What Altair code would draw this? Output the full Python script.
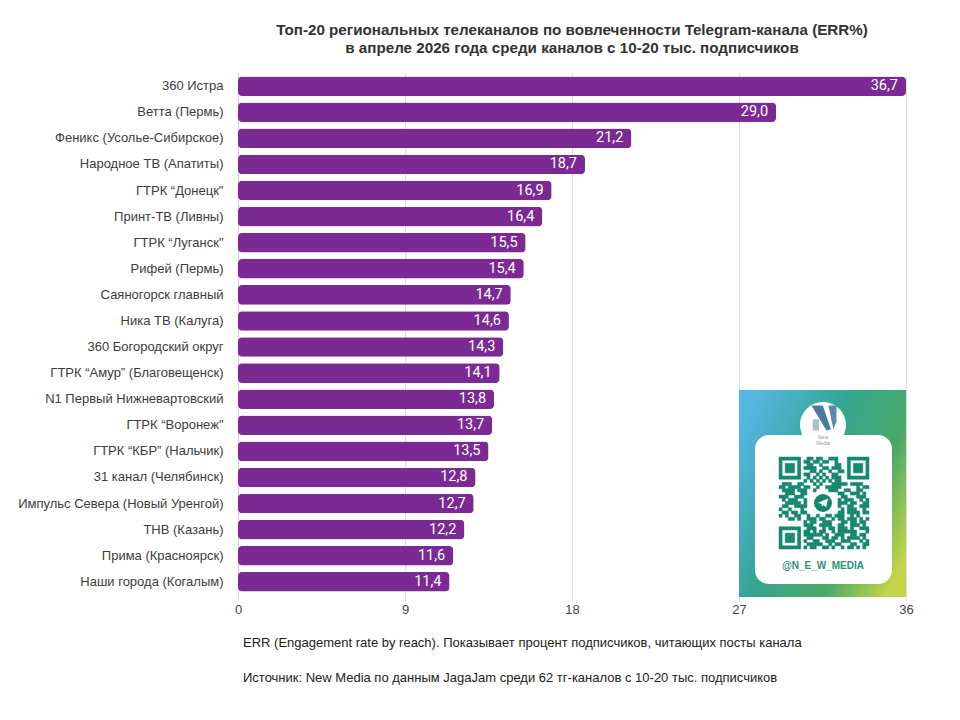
import altair as alt
import pandas as pd

channels = ["360 Истра", "Ветта (Пермь)", "Феникс (Усолье-Сибирское)", "Народное ТВ (Апатиты)",
            "ГТРК “Донецк\"", "Принт-ТВ (Ливны)", "ГТРК “Луганск\"", "Рифей (Пермь)",
            "Саяногорск главный", "Ника ТВ (Калуга)", "360 Богородский округ",
            "ГТРК “Амур” (Благовещенск)", "N1 Первый Нижневартовский", "ГТРК “Воронеж\"",
            "ГТРК “КБР” (Нальчик)", "31 канал (Челябинск)", "Импульс Севера (Новый Уренгой)",
            "ТНВ (Казань)", "Прима (Красноярск)", "Наши города (Когалым)"]
err = [36.7, 29.0, 21.2, 18.7, 16.9, 16.4, 15.5, 15.4, 14.7, 14.6,
       14.3, 14.1, 13.8, 13.7, 13.5, 12.8, 12.7, 12.2, 11.6, 11.4]
x_ticks = [0, 9, 18, 27, 36]
title_lines = ["Топ-20 региональных телеканалов по вовлеченности Telegram-канала (ERR%)",
               "в апреле 2026 года среди каналов с 10-20 тыс. подписчиков"]
notes = ["ERR (Engagement rate by reach). Показывает процент подписчиков, читающих посты канала",
         "Источник: New Media по данным JagaJam среди 62 тг-каналов с 10-20 тыс. подписчиков"]
qr_rows = [
    "11111110011011001110001111111",
    "10000010110110110010001000001",
    "10111010011001000011001011101",
    "10111010111100110111001011101",
    "10111010001101001001101011101",
    "10000010110010100110001000001",
    "11111110010101010111001111111",
    "00000000101010101011000000000",
    "01110011000101000111110111100",
    "11011110110010011111000001011",
    "01111011100100001110011001100",
    "00111001100000000001100111010",
    "11100111000000000000110001110",
    "01011100100000000001011100101",
    "00111110100000000001110110011",
    "01100111100000000001001100111",
    "10010001000000000000101110010",
    "01101101100000000001101111011",
    "10100110010010011011100101000",
    "00011010011101100101101110101",
    "00000000101100111000110110110",
    "00000000111001111001100111010",
    "11111110011100101101110100111",
    "10000010110101100101111110001",
    "10111010111111010011100110110",
    "10111010011000110110101111010",
    "10111010100110011100111000101",
    "10000010011111001011000110011",
    "11111110101100110100101101010",
]

FONT = "Liberation Sans"
df = pd.DataFrame({"channel": channels, "err": err,
                   "label": [f"{v:.1f}".replace(".", ",") for v in err]})
qr = pd.DataFrame([{"c": c, "c2": c + 1, "r": r, "r2": r + 1}
                   for r, row in enumerate(qr_rows) for c, ch in enumerate(row) if ch == "1"])

xs = alt.Scale(domain=[0, 36], clamp=True, nice=False)
ys = alt.Scale(domain=channels, paddingInner=0.25, paddingOuter=0.13)
X = alt.X("err:Q", scale=xs, title=None,
          axis=alt.Axis(values=x_ticks, grid=True, gridColor="#dedede", tickColor="#dedede", tickSize=6,
                        domain=False, labelFont=FONT, labelFontSize=13, labelColor="#444444",
                        labelPadding=2, labelAngle=0, labelFlush=False))
Y = alt.Y("channel:N", scale=ys, sort=channels, title=None,
          axis=alt.Axis(ticks=False, domainColor="#d0d0d0", labelFont=FONT, labelFontSize=13,
                        labelColor="#3c3c3c", labelPadding=15, labelLimit=320))

bars = alt.Chart(df).mark_bar(color="#7a2a92", cornerRadius=4).encode(x=X, y=Y)
labels = alt.Chart(df).mark_text(align="right", baseline="middle", dx=-8, color="white",
                                 font="Roboto", fontSize=14.5).encode(
    x=alt.X("err:Q", scale=xs), y=alt.Y("channel:N", scale=ys, sort=channels), text="label:N")

one = pd.DataFrame({"k": [0]})
panel_fill = alt.Gradient(gradient="linear", x1=0, y1=0.2, x2=1, y2=0.8, stops=[
    alt.GradientStop(offset=0, color="#55b6e2"), alt.GradientStop(offset=0.4, color="#35a592"),
    alt.GradientStop(offset=0.72, color="#49a868"), alt.GradientStop(offset=1, color="#c4d448")])
panel = alt.Chart(one).mark_rect(color=panel_fill).encode(
    x=alt.datum(27, scale=xs), x2=alt.datum(36), y=alt.value(317), y2=alt.value(524))
badge = alt.Chart(one).mark_point(filled=True, color="white", opacity=1, size=2116).encode(
    x=alt.value(585), y=alt.value(352))
card = alt.Chart(one).mark_rect(color="white", cornerRadius=14).encode(
    x=alt.value(517), x2=alt.value(654), y=alt.value(362), y2=alt.value(511))
def glyph(path, color, size, px, py):
    return alt.Chart(one).mark_point(shape=path, filled=True, color=color, opacity=1, size=size,
                                     strokeWidth=0).encode(x=alt.value(px), y=alt.value(py))
logo_a = glyph("M-1,-1 L-.1,-1 L.55,.9 L.2,1 Z", "#4a7b9d", 625, 586, 345)
logo_b = glyph("M.35,-1 L1,-1 L1,.3 L.75,.9 Z", "#5b8ba8", 625, 586, 345)
logo_c = glyph("M-.9,.1 L-.4,.1 L-.4,1 L-.9,1 Z", "#a9bfcc", 625, 586, 345)
def txt(s, px, py, **kw):
    return alt.Chart(pd.DataFrame({"t": [s]})).mark_text(font=FONT, **kw).encode(
        x=alt.value(px), y=alt.value(py), text="t:N")
new_a = txt("New", 585, 364, fontSize=5, color="#8c9aa3", align="center")
new_b = txt("Media", 585, 370, fontSize=5, color="#8c9aa3", align="center")
handle = txt("@N_E_W_MEDIA", 585, 493, fontSize=10, fontWeight="bold", color="#2a9178", align="center")
tg_c = alt.Chart(one).mark_point(filled=True, color="#14866f", opacity=1, size=324).encode(
    x=alt.value(585), y=alt.value(430))
tg_p = glyph("M-.9,-.05 L.9,-.8 L.6,.75 L.05,.35 L-.2,.65 L-.25,.2 Z", "white", 121, 585, 430)
note_a = txt(notes[0], 5, 570, fontSize=13, color="#222222", align="left")
note_b = txt(notes[1], 5, 605, fontSize=13, color="#222222", align="left")

qr_layer = alt.Chart(qr).mark_rect(color="#14866f", stroke="#14866f", strokeWidth=0.5).encode(
    x=alt.X("c:Q", scale=alt.Scale(domain=[0, 29], range=[541, 631]), axis=None),
    x2="c2:Q",
    y=alt.Y("r:Q", scale=alt.Scale(domain=[0, 29], range=[384, 476]), axis=None),
    y2="r2:Q")

main = alt.layer(bars, labels, panel, badge, card, logo_a, logo_b, logo_c, new_a, new_b,
                 handle, note_a, note_b)
icon = alt.layer(tg_c, tg_p)

chart = alt.layer(main, qr_layer, icon).resolve_scale(x="independent", y="independent").properties(
    width=668, height=522,
    padding={"left": 230, "top": 65, "right": 46, "bottom": 90},
    autosize=alt.AutoSizeParams(type="none"),
    background="white",
    title=alt.TitleParams(text=title_lines, font=FONT, fontSize=15.2, fontWeight="bold", color="#333333",
                          anchor="middle", lineHeight=18, offset=17),
).configure_view(stroke=None)

chart.save("out.html", embed_options={"renderer": "svg", "actions": False})
